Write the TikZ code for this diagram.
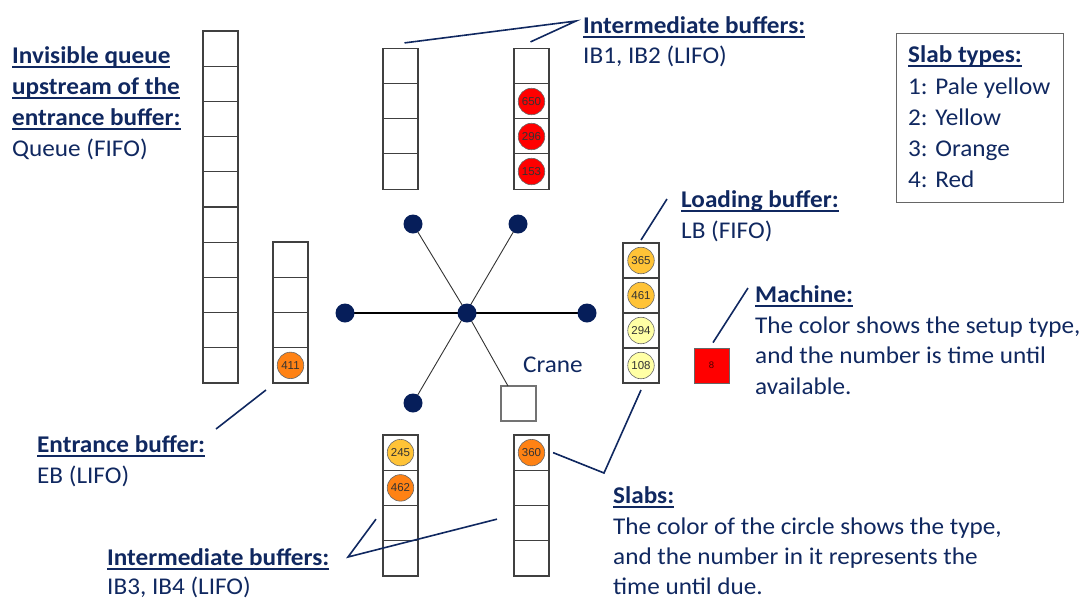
\documentclass[tikz,border=0pt]{standalone}
\usepackage{fontspec}
\setmainfont{Carlito}[FakeStretch=1.05]
\newfontfamily\numfont{Liberation Sans}
\usetikzlibrary{calc}
\definecolor{navy}{RGB}{16,40,96}
\definecolor{hubnavy}{RGB}{6,30,90}
\definecolor{slabred}{RGB}{255,0,0}
\definecolor{slaborange}{RGB}{255,130,20}
\definecolor{slabyellow}{RGB}{255,195,55}
\definecolor{slabpale}{RGB}{255,255,165}
\newsavebox\ulbox
\newcommand\myul[1]{\sbox\ulbox{#1}\rlap{\color{navy}\rule[-4.5pt]{\wd\ulbox}{1.6pt}}\usebox\ulbox}
\begin{document}
\begin{tikzpicture}[x=1pt,y=-1pt,
  cell/.style={draw=black!75, line width=1.1pt, fill=white, minimum width=35pt, minimum height=35.2pt, inner sep=0pt, outer sep=0pt},
  slab/.style={circle, draw=black!60, line width=0.6pt, minimum size=26.5pt, inner sep=0pt, font=\numfont\fontsize{11.5}{12}\selectfont, text=black!80},
  lbl/.style={anchor=base west, inner sep=0pt, text=navy, font=\fontsize{24}{31}\selectfont},
  hd/.style={lbl, font=\bfseries\fontsize{24}{31}\selectfont},
  conn/.style={draw=navy, line width=1.6pt},
  spoke/.style={draw=black!80, line width=0.9pt},
  hubdot/.style={circle, fill=hubnavy, minimum size=19pt, inner sep=0pt}]
\useasboundingbox (0,0) rectangle (1090,598);

% buffers
\foreach \i in {1,...,10} \node[cell] (q-\i) at (220.5,{31+35.2*(\i-0.5)}) {};
\foreach \i in {1,...,4} {
  \node[cell] (eb-\i) at (290.5,{242+35.25*(\i-0.5)}) {};
  \node[cell] (ib1-\i) at (400.5,{49+35*(\i-0.5)}) {};
  \node[cell] (ib2-\i) at (531.5,{49+35*(\i-0.5)}) {};
  \node[cell] (ib3-\i) at (400.5,{435+35.25*(\i-0.5)}) {};
  \node[cell] (ib4-\i) at (531.5,{435+35.25*(\i-0.5)}) {};
  \node[cell, minimum width=36pt, minimum height=35pt] (lb-\i) at (641,{243+35*(\i-0.5)}) {};
}

% slabs
\node[slab, fill=slabred] (s650) at (ib2-2) {650};
\node[slab, fill=slabred] (s296) at (ib2-3) {296};
\node[slab, fill=slabred] (s153) at (ib2-4) {153};
\node[slab, fill=slabyellow] (s365) at (lb-1) {365};
\node[slab, fill=slabyellow] (s461) at (lb-2) {461};
\node[slab, fill=slabpale] (s294) at (lb-3) {294};
\node[slab, fill=slabpale] (s108) at (lb-4) {108};
\node[slab, fill=slaborange] (s411) at (eb-4) {411};
\node[slab, fill=slabyellow] (s245) at (ib3-1) {245};
\node[slab, fill=slaborange] (s462) at (ib3-2) {462};
\node[slab, fill=slaborange] (s360) at (ib4-1) {360};

% machine
\node[draw=black!60, line width=0.8pt, fill=slabred, minimum size=35pt, inner sep=0pt,
      font=\numfont\fontsize{9.5}{10}\selectfont, text=black!70!red] (machine) at (711.5,365.5) {8};

% crane
\node[cell, draw=black!55, minimum height=35pt] (crane) at (518.5,403.5) {};
\coordinate (pul) at (413,224);
\coordinate (pur) at (518,224);
\coordinate (pl) at (345,313);
\coordinate (pr) at (587,313);
\coordinate (pll) at (413,403);
\coordinate (phub) at (467,313);
\draw[spoke] (pul) -- (phub) -- ($(crane.north west)+(7,0)$);
\draw[spoke] (pur) -- (pll);
\draw[draw=black, line width=1.6pt] (pl) -- (pr);
\node[hubdot] (hub) at (phub) {};
\node[hubdot] (dul) at (pul) {};
\node[hubdot] (dur) at (pur) {};
\node[hubdot] (dl) at (pl) {};
\node[hubdot] (dr) at (pr) {};
\node[hubdot] (dll) at (pll) {};
\node[lbl] (cranelbl) at (523,372) {Crane};

% labels
\node[hd] (qh1) at (12,63) {\myul{Invisible queue}};
\node[hd] (qh2) at (12,94) {\myul{upstream of the}};
\node[hd] (qh3) at (12,125) {\myul{entrance buffer:}};
\node[lbl] (qt) at (12,156) {Queue (FIFO)};

\node[hd] (ibth) at (583,33) {\myul{Intermediate buffers:}};
\node[lbl] (ibtt) at (583,63) {IB1, IB2 (LIFO)};

\node[hd] (lbh) at (681,207) {\myul{Loading buffer:}};
\node[lbl] (lbt) at (681,238) {LB (FIFO)};

\node[hd] (mh) at (755,302) {\myul{Machine:}};
\node[lbl] (mt1) at (755,333) {The color shows the setup type,};
\node[lbl] (mt2) at (755,363) {and the number is time until};
\node[lbl] (mt3) at (755,394) {available.};

\node[hd] (ebh) at (37,452) {\myul{Entrance buffer:}};
\node[lbl] (ebt) at (37,483) {EB (LIFO)};

\node[hd] (sh) at (613,503) {\myul{Slabs:}};
\node[lbl] (st1) at (613,534) {The color of the circle shows the type,};
\node[lbl] (st2) at (613,564) {and the number in it represents the};
\node[lbl] (st3) at (613,594) {time until due.};

\node[hd] (ibbh) at (107,565) {\myul{Intermediate buffers:}};
\node[lbl] (ibbt) at (107,594) {IB3, IB4 (LIFO)};

% slab types box
\draw[draw=black!60, line width=1pt] (896,33) rectangle (1063,202);
\node[hd] (th) at (908,62) {\myul{Slab types:}};
\node[lbl] (t1) at (908,94) {1: Pale yellow};
\node[lbl] (t2) at (908,125) {2: Yellow};
\node[lbl] (t3) at (908,156) {3: Orange};
\node[lbl] (t4) at (908,187) {4: Red};

% connectors
\coordinate (ctop) at (576,21);
\draw[conn] ($(ib1-1.north)+(4,-6)$) -- (ctop) -- ($(ib2-1.north)+(-1,-7)$);
\coordinate (clb) at (667,199);
\draw[conn] ($(lb-1.north)+(0,-3)$) -- (clb);
\coordinate (cm) at (748,288);
\draw[conn] ($(machine.north)+(1.5,-5)$) -- (cm);
\coordinate (ceb) at (216,429);
\draw[conn] ($(eb-4.south west)+(-7,7)$) -- (ceb);
\coordinate (cs) at (604,473);
\draw[conn] ($(s360.east)+(8,0)$) -- (cs) -- ($(lb-4.south)+(0,7)$);
\coordinate (cib) at (348,557);
\draw[conn] ($(ib3-3.west)+(-7,-4)$) -- (cib) -- ($(ib4-3.west)+(-17,-4)$);
\end{tikzpicture}
\end{document}
